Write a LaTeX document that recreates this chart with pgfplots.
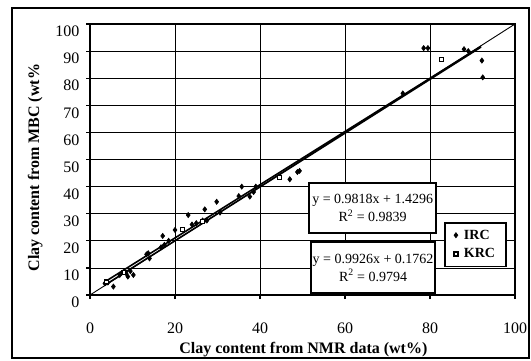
\documentclass[border=0pt]{standalone}
\usepackage{fontspec}
\setmainfont{Liberation Serif}
\usepackage{pgfplots}
\pgfplotsset{compat=1.18}
\begin{document}
\begin{tikzpicture}
\begin{axis}[
  scale only axis, width=425pt, height=271pt,
  xmin=0, xmax=100, ymin=0, ymax=100,
  xtick={0,20,...,100}, ytick={0,10,...,100},
  grid=major, major grid style={black, line width=0.8pt},
  axis line style={line width=1.6pt},
  tick style={black, line width=1.2pt},
  tick align=outside, major tick length=4pt,
  xtick pos=bottom, ytick pos=left,
  /pgf/number format/assume math mode=true,
  ticklabel style={font=\fontsize{16}{18}\selectfont},
  xticklabel style={anchor=base, yshift=-34pt},
  yticklabel style={xshift=-3pt, yshift=-7.5pt},
  xlabel={Clay content from NMR data (wt\%)},
  ylabel={Clay content from MBC (wt\%},
  xlabel style={font=\bfseries\fontsize{16}{18}\selectfont, at={(axis description cs:0.502,-0.203)}, anchor=center},
  ylabel style={font=\bfseries\fontsize{16}{18}\selectfont, at={(axis description cs:-0.129,0.47)}, anchor=center},
  clip=false,
  legend style={at={(axis cs:90.7,18.6)}, anchor=center, draw=black, line width=1.5pt, fill=white,
    font=\bfseries\fontsize{14}{16}\selectfont, inner xsep=9pt, inner ysep=5pt, row sep=4pt},
  legend cell align=left,
]
\addplot[only marks, mark=diamond*, mark size=2.6pt, black, line width=0.6pt] coordinates {
(3.5,4.3)(4.2,4.6)(5.5,3.1)(7,7.4)(8.9,6.8)(8.5,8)(10.2,7.4)(9.5,8.8)
(13.7,15.4)(14,13.5)(13.3,15)(16.7,17.6)(17.1,21.8)(17.5,18.5)(18.5,20)
(20,24)(23.1,29.5)(24,26)(25,26.5)(26.5,27.5)(27,31.6)(27.5,27.5)
(29.8,34.4)(30.6,30.4)(35.7,40)(35,36.5)(37.6,36.3)(38.5,38)(39,40)
(47,42.7)(48.8,45.4)(49.3,45.8)(73.6,74.4)(78.5,91.1)(79.5,91.1)(88,90.7)(89,90)
(92.2,86.5)(92.4,80.3)
};
\addlegendentry{\hspace{4pt}IRC}
\addplot[only marks, mark=square*, mark size=2pt, black, fill=white, mark options={fill=white, line width=1.2pt}] coordinates {
(3.8,4.8)(8,8.2)(21.8,24.2)(26.5,27)(44.5,43.4)(82.7,87)
};
\addlegendentry{\hspace{4pt}KRC}
\addplot[black, line width=1.6pt, forget plot] coordinates {(3.5,4.866)(92,91.755)};
\addplot[black, line width=1.6pt, forget plot] coordinates {(3.5,3.650)(92,91.495)};
\addplot[black, line width=0.9pt, forget plot] coordinates {(0,0)(100,100)};
\node[draw, line width=1.5pt, fill=white, minimum width=127pt, minimum height=50pt, align=center,
  font=\fontsize{14}{18}\selectfont, inner sep=1pt] at (axis cs:66.5,32.1)
  {y = 0.9818x + 1.4296\\R\textsuperscript{2} = 0.9839};
\node[draw, line width=1.5pt, fill=white, minimum width=124pt, minimum height=51pt, align=center,
  font=\fontsize{14}{18}\selectfont, inner sep=1pt] at (axis cs:66.6,10.1)
  {y = 0.9926x + 0.1762\\R\textsuperscript{2} = 0.9794};
\draw[line width=1.5pt] (rel axis cs:-0.1835,-0.232) rectangle (rel axis cs:1.033,1.059);
\coordinate (bl) at (rel axis cs:-0.2118,-0.2399);
\coordinate (tr) at (rel axis cs:1.0376,1.0886);
\end{axis}
\pgfresetboundingbox
\useasboundingbox (bl) rectangle (tr);
\end{tikzpicture}
\end{document}
